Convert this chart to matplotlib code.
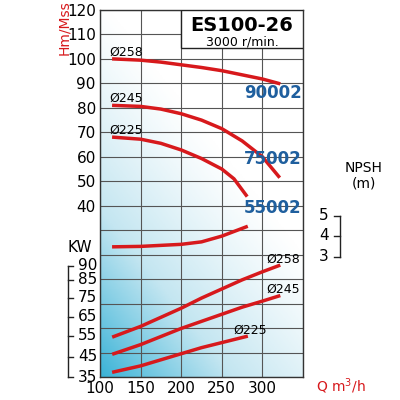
import numpy as np
import matplotlib
matplotlib.use("Agg")
import matplotlib.pyplot as plt
from matplotlib.colors import LinearSegmentedColormap

q = [117, 150, 175, 200, 225, 250, 275, 300, 320]
h258 = [100, 99.5, 98.7, 97.6, 96.5, 95.2, 93.5, 91.8, 90]
h245 = [81, 80.6, 79.5, 77.6, 75, 71.5, 66.5, 60, 52]
q225 = [117, 150, 175, 200, 225, 250, 265, 280]
h225 = [68, 67.2, 65.5, 62.8, 59.3, 55, 51, 44.3]
kw258 = [55, 60, 64.5, 69, 74, 78.5, 83, 87, 90]
kw245 = [46.5, 51, 55, 59, 62.5, 66, 69.5, 72.5, 75]
qk225 = [117, 150, 175, 200, 225, 250, 280]
kw225 = [37.5, 40.5, 43.5, 46.5, 49.5, 52, 55]
npsh_q = [117, 150, 200, 225, 250, 280]
npsh = [3.48, 3.5, 3.6, 3.72, 4.0, 4.45]
head_ticks = [40, 50, 60, 70, 80, 90, 100, 110, 120]
kw_ticks = [35, 45, 55, 65, 75, 85, 90]
npsh_ticks = [3, 4, 5]

RED = "#d7191c"
BLUE = "#1f5f9e"

fig = plt.figure(figsize=(4, 4), dpi=100)
ax = fig.add_axes([0.25, 0.0575, 0.5075, 0.9175])
ax.set_xlim(100, 350)
ax.set_ylim(-30, 120)

def px2h(p):
    return 120 - (np.asarray(p, float) - 10) / 2.44
def kw2h(v):
    return px2h(376 - (np.asarray(v, float) - 35) * 2.018)
def n2h(v):
    return px2h(256 - (np.asarray(v, float) - 3) * 20.5)
def px2x(p):
    return 100 + (p - 100) * 250 / 203

xx, yy = np.meshgrid(np.linspace(0, 1, 200), np.linspace(0, 1, 200))
g = np.clip(1 - (xx * 0.9 + yy * 1.3) / 1.35, 0, 1) ** 1.2
cmap = LinearSegmentedColormap.from_list("b", ["#ffffff", "#c4e6f1", "#3ab3d7"])
ax.imshow(g, extent=[100, 350, -30, 120], origin="lower", cmap=cmap, aspect="auto", zorder=0)

ax.set_xticks([100, 150, 200, 250, 300, 350])
ax.set_xticklabels(["100", "150", "200", "250", "300", ""])
ax.set_yticks(np.arange(-30, 121, 10))
ax.set_yticklabels([str(v) if v in head_ticks else "" for v in np.arange(-30, 121, 10)])
ax.grid(True, color="#555555", lw=0.8, zorder=1)
ax.tick_params(length=0, labelsize=11, pad=3)
for s in ax.spines.values():
    s.set_color("#333333"); s.set_linewidth(1)

lw = 2.5
ax.plot(q, h258, color=RED, lw=lw, zorder=3)
ax.plot(q, h245, color=RED, lw=lw, zorder=3)
ax.plot(q225, h225, color=RED, lw=lw, zorder=3)
ax.plot(q, kw2h(kw258), color=RED, lw=lw, zorder=3)
ax.plot(q, kw2h(kw245), color=RED, lw=lw, zorder=3)
ax.plot(qk225, kw2h(kw225), color=RED, lw=lw, zorder=3)
ax.plot(npsh_q, n2h(npsh), color=RED, lw=lw, zorder=3)

fs = 9
ax.text(112, 101.5, "Ø258", fontsize=fs)
ax.text(112, 82.5, "Ø245", fontsize=fs)
ax.text(112, 69.5, "Ø225", fontsize=fs)
ax.text(348, 84, "90002", color=BLUE, fontsize=12, fontweight="bold", ha="right")
ax.text(348, 57, "75002", color=BLUE, fontsize=12, fontweight="bold", ha="right")
ax.text(348, 37, "55002", color=BLUE, fontsize=12, fontweight="bold", ha="right")
ax.text(346, px2h(262), "Ø258", fontsize=fs, ha="right")
ax.text(346, px2h(292), "Ø245", fontsize=fs, ha="right")
ax.text(306, px2h(333), "Ø225", fontsize=fs, ha="right")

ax.add_patch(plt.Rectangle((200, 104.4), 150, 15.6, facecolor="white", edgecolor="#222222", lw=1, zorder=4))
ax.text(275, 113.5, "ES100-26", fontsize=14, fontweight="bold", ha="center", va="center", zorder=5)
ax.text(275, 107, "3000 r/min.", fontsize=9, ha="center", va="center", zorder=5)

# KW scale (tick pixel positions)
kw_px = [376, 356, 335, 316, 297, 279, 265]
xb, xt, xl = px2x(68), px2x(73), px2x(78)
ax.plot([xb, xb], [px2h(376), px2h(265)], color="#222222", lw=1, clip_on=False)
for v, p in zip(kw_ticks, kw_px):
    ax.plot([xb, xt], [px2h(p)] * 2, color="#222222", lw=1, clip_on=False)
    ax.text(xl, px2h(p), str(v), fontsize=11, ha="left", va="center", clip_on=False)
ax.text(px2x(80), px2h(247), "KW", fontsize=11, ha="center", va="center")

# NPSH scale
np_px = [256, 235, 215]
xs, xt2, xl2 = px2x(340), px2x(334), px2x(329)
ax.plot([xs, xs], [px2h(256), px2h(215)], color="#222222", lw=1, clip_on=False)
for v, p in zip(npsh_ticks, np_px):
    ax.plot([xt2, xs], [px2h(p)] * 2, color="#222222", lw=1, clip_on=False)
    ax.text(xl2, px2h(p), str(v), fontsize=11, ha="right", va="center", clip_on=False)
fig.text(0.91, 0.56, "NPSH\n(m)", fontsize=10, ha="center", va="center", linespacing=1.1)

fig.text(0.16, 0.93, "Hm/Mss", color=RED, fontsize=10, rotation=90, ha="center", va="center")
fig.text(0.79, 0.02, "Q m$^3$/h", color=RED, fontsize=10, ha="left")

fig.savefig("out.png", dpi=100)
